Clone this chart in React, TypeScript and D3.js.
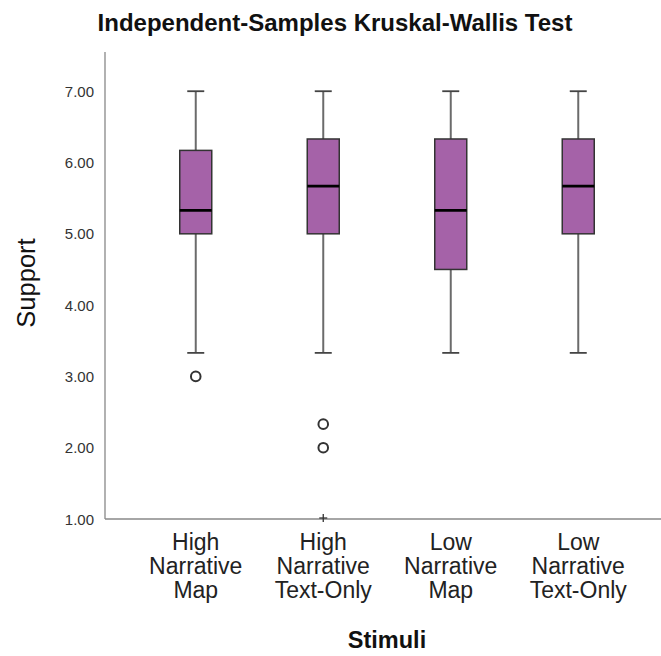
import React from "react";
import * as d3 from "d3";

// Box plot summaries per stimulus group
const categories = ["High Narrative Map", "High Narrative Text-Only", "Low Narrative Map", "Low Narrative Text-Only"];
const categoryLines = [["High", "Narrative", "Map"], ["High", "Narrative", "Text-Only"], ["Low", "Narrative", "Map"], ["Low", "Narrative", "Text-Only"]];
const whiskerLow = [3.33, 3.33, 3.33, 3.33];
const q1 = [5.0, 5.0, 4.5, 5.0];
const median = [5.33, 5.67, 5.33, 5.67];
const q3 = [6.17, 6.33, 6.33, 6.33];
const whiskerHigh = [7.0, 7.0, 7.0, 7.0];
const outliers = [[3.0], [2.33, 2.0], [], []];
const extremes = [[], [1.0], [], []];
const yTicks = [1, 2, 3, 4, 5, 6, 7];

const W = 661;
const H = 656;
const left = 105;
const right = 661;
const top = 52;
const bottom = 519;

export default function App() {
  const x = d3.scaleBand<string>().domain(categories).range([132, 642]).paddingInner(0).paddingOuter(0);
  const y = d3.scaleLinear().domain([1, 7.55]).range([bottom, top]);
  const bw = 32;
  const cap = 17;
  const font = "'Liberation Sans', Arial, sans-serif";

  return (
    <svg width={W} height={H} style={{ position: "absolute", left: 0, top: 0, background: "#fff" }}>
      <text x={335} y={31} textAnchor="middle" fontFamily={font} fontWeight="bold" fontSize={24} fill="#111">
        Independent-Samples Kruskal-Wallis Test
      </text>
      {/* axes */}
      <line x1={left} x2={left} y1={top} y2={bottom} stroke="#888" strokeWidth={1.3} />
      <line x1={left} x2={right} y1={bottom} y2={bottom} stroke="#888" strokeWidth={1.3} />
      {yTicks.map((t) => (
        <text key={t} x={94} y={y(t) + 5.5} textAnchor="end" fontFamily={font} fontSize={15} fill="#333">
          {t.toFixed(2)}
        </text>
      ))}
      <text transform={`translate(35,283) rotate(-90)`} textAnchor="middle" fontFamily={font} fontSize={25.5} fill="#111">
        Support
      </text>
      <text x={387} y={648} textAnchor="middle" fontFamily={font} fontWeight="bold" fontSize={23.5} fill="#111">
        Stimuli
      </text>
      {categories.map((c, i) => {
        const cx = (x(c) as number) + x.bandwidth() / 2;
        return (
          <g key={c}>
            <line x1={cx} x2={cx} y1={y(whiskerHigh[i])} y2={y(q3[i])} stroke="#6b6b6b" strokeWidth={2} />
            <line x1={cx} x2={cx} y1={y(q1[i])} y2={y(whiskerLow[i])} stroke="#6b6b6b" strokeWidth={2} />
            <line x1={cx - cap / 2} x2={cx + cap / 2} y1={y(whiskerHigh[i])} y2={y(whiskerHigh[i])} stroke="#444" strokeWidth={1.8} />
            <line x1={cx - cap / 2} x2={cx + cap / 2} y1={y(whiskerLow[i])} y2={y(whiskerLow[i])} stroke="#444" strokeWidth={1.8} />
            <rect x={cx - bw / 2} y={y(q3[i])} width={bw} height={y(q1[i]) - y(q3[i])} fill="#a562a8" stroke="#333" strokeWidth={1.5} />
            <line x1={cx - bw / 2} x2={cx + bw / 2} y1={y(median[i])} y2={y(median[i])} stroke="#000" strokeWidth={2.8} />
            {outliers[i].map((v, k) => (
              <circle key={k} cx={cx} cy={y(v)} r={4.8} fill="#fff" stroke="#333" strokeWidth={2} />
            ))}
            {extremes[i].map((v, k) => (
              <g key={k} stroke="#333" strokeWidth={1.3}>
                <line x1={cx - 4} x2={cx + 4} y1={y(v) - 1} y2={y(v) - 1} />
                <line x1={cx} x2={cx} y1={y(v) - 5} y2={y(v) + 3} />
              </g>
            ))}
            {categoryLines[i].map((s, k) => (
              <text key={k} x={cx} y={550 + k * 24} textAnchor="middle" fontFamily={font} fontSize={23} fill="#222">
                {s}
              </text>
            ))}
          </g>
        );
      })}
    </svg>
  );
}
